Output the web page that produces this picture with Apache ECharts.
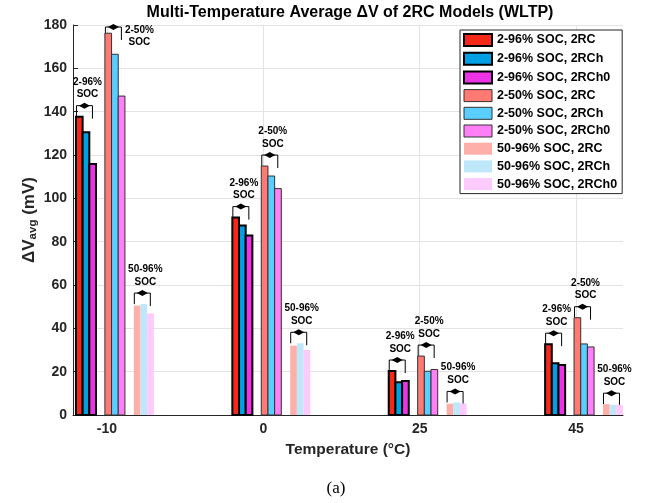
<!DOCTYPE html>
<html>
<head>
<meta charset="utf-8">
<script src="https://cdn.jsdelivr.net/npm/echarts@6/dist/echarts.min.js"></script>
<style>html,body{margin:0;padding:0;background:#fff}#c{width:648px;height:503px}</style>
</head>
<body>
<div id="c"></div>
<script>
// ---- data ----
const categories = ['-10', '0', '25', '45'];
const soc296_2RC   = [137.7, 91.1, 20.3, 32.7];
const soc296_2RCh  = [130.5, 87.5, 15.1, 23.9];
const soc296_2RCh0 = [115.8, 82.9, 15.7, 23.1];
const soc250_2RC   = [176.2, 114.9, 27.2, 44.9];
const soc250_2RCh  = [166.5, 110.3, 20.2, 32.8];
const soc250_2RCh0 = [147.2, 104.5, 21.0, 31.4];
const soc5096_2RC   = [50.5, 32.0, 5.2, 5.0];
const soc5096_2RCh  = [51.2, 33.1, 5.8, 4.7];
const soc5096_2RCh0 = [46.9, 30.0, 5.3, 4.7];
const seriesNames = [
  '2-96% SOC, 2RC', '2-96% SOC, 2RCh', '2-96% SOC, 2RCh0',
  '2-50% SOC, 2RC', '2-50% SOC, 2RCh', '2-50% SOC, 2RCh0',
  '50-96% SOC, 2RC', '50-96% SOC, 2RCh', '50-96% SOC, 2RCh0'
];
const groupLabels = ['2-96%\nSOC', '2-50%\nSOC', '50-96%\nSOC'];
const yTickValues = [0, 20, 40, 60, 80, 100, 120, 140, 160, 180];

// ---- styling ----
const groupsData = [
  [soc296_2RC, soc296_2RCh, soc296_2RCh0],
  [soc250_2RC, soc250_2RCh, soc250_2RCh0],
  [soc5096_2RC, soc5096_2RCh, soc5096_2RCh0]
];
const colors = [
  ['#F5281A', '#00A0E4', '#EE32E6'],
  ['#FF7A73', '#5ACEFF', '#FF80F6'],
  ['#FFAFAA', '#BEE7FA', '#FDCAFC']
];
const borders = [
  {stroke: '#000', lw: 2},
  {stroke: '#333', lw: 1},
  {stroke: null, lw: 0}
];
const GROUP_OFF = [-0.134, 0.051, 0.236];
const BAR_W = 0.0427;

const series = [];
const legendData = [];
let k = 0;
groupsData.forEach((grp, g) => {
  grp.forEach((vals, b) => {
    const fill = colors[g][b];
    const bd = borders[g];
    const name = seriesNames[k++];
    legendData.push({
      name: name, icon: 'rect',
      itemStyle: {color: fill, borderColor: bd.stroke || fill, borderWidth: bd.lw}
    });
    series.push({
      type: 'custom', name: name, z: 3,
      itemStyle: {color: fill, borderColor: bd.stroke || fill, borderWidth: bd.lw},
      data: vals.map((v, i) => [i + 1, v]),
      encode: {x: 0, y: 1},
      renderItem: function (params, api) {
        const xc = api.value(0) + GROUP_OFF[g] + (b - 1) * BAR_W;
        const p0 = api.coord([xc - BAR_W / 2, api.value(1)]);
        const p1 = api.coord([xc + BAR_W / 2, 0]);
        const st = {fill: fill};
        if (bd.stroke) { st.stroke = bd.stroke; st.lineWidth = bd.lw; }
        return {
          type: 'rect',
          shape: {x: p0[0], y: p0[1], width: p1[0] - p0[0], height: p1[1] - p0[1]},
          style: st
        };
      }
    });
  });
});

// annotation brackets (computed from the data)
const annData = [];
categories.forEach((c, i) => {
  groupsData.forEach((grp, g) => {
    annData.push([i + 1, g, Math.max(grp[0][i], grp[1][i], grp[2][i])]);
  });
});
series.push({
  type: 'custom', name: 'annotations', z: 2, silent: true,
  data: annData,
  encode: {x: 0, y: 2},
  renderItem: function (params, api) {
    const xi = api.value(0), g = api.value(1), mx = api.value(2);
    const xc = xi + GROUP_OFF[g];
    const left = api.coord([xc - 1.5 * BAR_W, 0])[0] + 0.5;
    const gc = api.coord([xc, 0])[0];
    const right = left + 16;
    const top = api.coord([xc, 180])[1];
    let yb = api.coord([xc, mx])[1] - 11;
    let side = false;
    if (yb < top + 2) { yb = top + 2; side = true; }
    const bc = (left + right) / 2;
    const children = [
      {type: 'line', shape: {x1: left, y1: yb, x2: right, y2: yb}, style: {stroke: '#000', lineWidth: 1}},
      {type: 'line', shape: {x1: left, y1: yb, x2: left, y2: yb + 11}, style: {stroke: '#000', lineWidth: 1}},
      {type: 'line', shape: {x1: right, y1: yb, x2: right, y2: yb + 13}, style: {stroke: '#000', lineWidth: 1}},
      {type: 'polygon', shape: {points: [[bc - 5.5, yb], [bc, yb - 3], [bc + 5.5, yb], [bc, yb + 3]]}, style: {fill: '#000'}}
    ];
    if (side) {
      children.push({type: 'text', style: {
        text: groupLabels[g], x: right + 18, y: yb - 3, align: 'center', verticalAlign: 'top',
        font: 'bold 10px "Liberation Sans", Arial, sans-serif', lineHeight: 12, fill: '#000'
      }});
    } else {
      children.push({type: 'text', style: {
        text: groupLabels[g], x: gc + 1.5, y: yb - 5, align: 'center', verticalAlign: 'bottom',
        font: 'bold 10px "Liberation Sans", Arial, sans-serif', lineHeight: 12.5, fill: '#000'
      }});
    }
    return {type: 'group', children: children};
  }
});

const chart = echarts.init(document.getElementById('c'), null, {renderer: 'canvas'});
chart.setOption({
  animation: false,
  backgroundColor: '#fff',
  grid: {left: 73, right: 25, top: 25, bottom: 88, containLabel: false},
  xAxis: {
    type: 'value', min: 0.783, max: 4.30,
    axisLine: {show: true, onZero: false, lineStyle: {color: '#262626', width: 1}},
    axisTick: {show: true, inside: true, length: 5, customValues: [1, 2, 3, 4], lineStyle: {color: '#262626'}},
    axisLabel: {
      customValues: [1, 2, 3, 4],
      formatter: function (v) { return categories[Math.round(v) - 1]; },
      color: '#262626', fontWeight: 'bold', fontSize: 14, margin: 7,
      fontFamily: '"Liberation Sans", Arial, sans-serif'
    },
    splitLine: {show: true, lineStyle: {color: '#E3E3E3', width: 1}},
    name: 'Temperature (°C)', nameLocation: 'middle', nameGap: 27,
    nameTextStyle: {color: '#262626', fontWeight: 'bold', fontSize: 15.5, fontFamily: '"Liberation Sans", Arial, sans-serif'}
  },
  yAxis: {
    type: 'value', min: 0, max: 180, interval: 20,
    axisLine: {show: true, lineStyle: {color: '#262626', width: 1}},
    axisTick: {show: true, inside: true, length: 5, lineStyle: {color: '#262626'}},
    axisLabel: {
      color: '#262626', fontWeight: 'bold', fontSize: 14, margin: 6,
      fontFamily: '"Liberation Sans", Arial, sans-serif',
      formatter: function (v) { return yTickValues.indexOf(v) >= 0 ? String(v) : ''; }
    },
    splitLine: {show: true, lineStyle: {color: '#E3E3E3', width: 1}},
    name: '{a|ΔV}{s|avg}{a| (mV)}', nameLocation: 'middle', nameGap: 34, nameRotate: 90,
    nameMoveOverlap: false,
    nameTextStyle: {
      color: '#262626',
      rich: {
        a: {fontSize: 17, fontWeight: 'bold', color: '#262626', lineHeight: 20, fontFamily: '"Liberation Sans", Arial, sans-serif'},
        s: {fontSize: 11.5, fontWeight: 'bold', color: '#262626', lineHeight: 11, verticalAlign: 'bottom', fontFamily: '"Liberation Sans", Arial, sans-serif'}
      }
    }
  },
  legend: {
    orient: 'vertical', left: 460, top: 30,
    padding: [3, 5, 3, 3],
    itemWidth: 28, itemHeight: 12, itemGap: 4.7,
    backgroundColor: '#fff', borderColor: '#262626', borderWidth: 1,
    selectedMode: false,
    textStyle: {fontSize: 12.5, fontWeight: 'bold', color: '#000', lineHeight: 12, fontFamily: '"Liberation Sans", Arial, sans-serif'},
    data: legendData
  },
  graphic: [
    {type: 'text', x: 350, y: 12.5, style: {
      text: 'Multi-Temperature Average ΔV of 2RC Models (WLTP)',
      font: 'bold 16px "Liberation Sans", Arial, sans-serif', fill: '#000',
      align: 'center', verticalAlign: 'middle'
    }},
    {type: 'text', x: 336, y: 489, style: {
      text: '(a)', font: '17px "Liberation Serif", "DejaVu Serif", serif', fill: '#000',
      align: 'center', verticalAlign: 'middle'
    }}
  ],
  series: series
});
</script>
</body>
</html>
